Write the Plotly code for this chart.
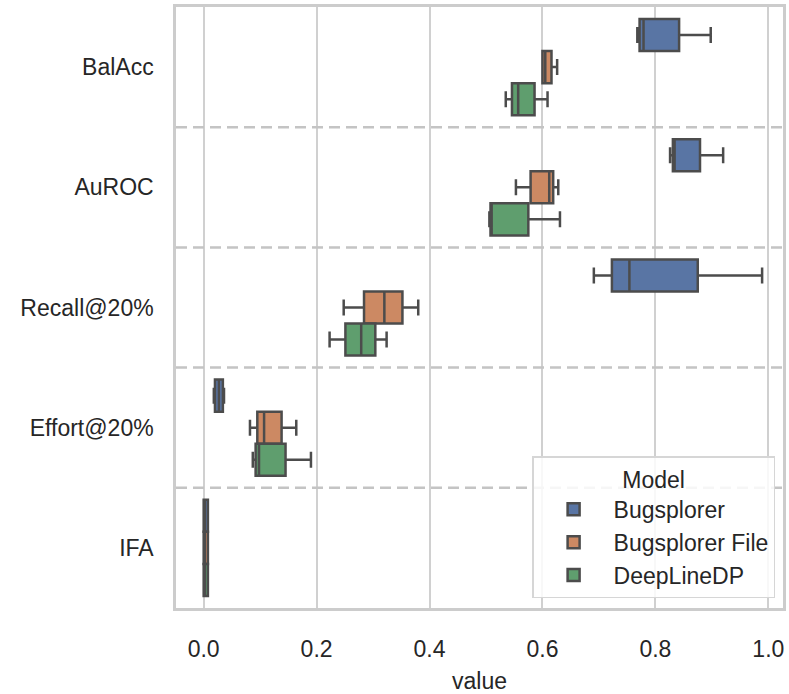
import plotly.graph_objects as go

metrics = ["BalAcc", "AuROC", "Recall@20%", "Effort@20%", "IFA"]
models = ["Bugsplorer", "Bugsplorer File", "DeepLineDP"]
colors = ["#5975a4", "#cc8963", "#5f9e6e"]

# box statistics per model, ordered as metrics
bug_low = [0.768, 0.826, 0.691, 0.018, 0.000]
bug_q1 = [0.772, 0.831, 0.723, 0.020, 0.000]
bug_med = [0.779, 0.834, 0.754, 0.027, 0.002]
bug_q3 = [0.842, 0.879, 0.875, 0.034, 0.0075]
bug_high = [0.898, 0.920, 0.989, 0.036, 0.0075]

file_low = [0.600, 0.553, 0.248, 0.082, 0.000]
file_q1 = [0.600, 0.579, 0.284, 0.095, 0.000]
file_med = [0.605, 0.612, 0.320, 0.107, 0.002]
file_q3 = [0.616, 0.619, 0.352, 0.138, 0.0075]
file_high = [0.626, 0.628, 0.380, 0.164, 0.0075]

dl_low = [0.535, 0.506, 0.223, 0.087, 0.000]
dl_q1 = [0.546, 0.508, 0.251, 0.092, 0.000]
dl_med = [0.557, 0.510, 0.279, 0.098, 0.002]
dl_q3 = [0.586, 0.575, 0.304, 0.145, 0.0075]
dl_high = [0.609, 0.631, 0.324, 0.190, 0.0075]

stats = [
    (bug_low, bug_q1, bug_med, bug_q3, bug_high),
    (file_low, file_q1, file_med, file_q3, file_high),
    (dl_low, dl_q1, dl_med, dl_q3, dl_high),
]

x_ticks = [0.0, 0.2, 0.4, 0.6, 0.8, 1.0]

FONT = "Liberation Sans, Arial, sans-serif"
TXT = "#262626"
GRID = "#d0d0d0"

fig = go.Figure()
for name, col, (lo, q1, md, q3, hi) in zip(models, colors, stats):
    fig.add_trace(go.Box(
        name=name,
        y=metrics,
        lowerfence=lo, q1=q1, median=md, q3=q3, upperfence=hi,
        orientation="h",
        fillcolor=col,
        line=dict(color="#4c4c4c", width=2.5),
        whiskerwidth=0.5,
        boxpoints=False,
        hoverinfo="x+name",
    ))

shapes = []
for i in range(len(metrics) - 1):
    shapes.append(dict(
        type="line", xref="paper", yref="y",
        x0=0, x1=1, y0=i + 0.5, y1=i + 0.5,
        line=dict(color="#c4c4c4", width=2.5, dash="11px,6px"),
        layer="above",
    ))

fig.update_layout(
    width=789, height=694,
    margin=dict(l=176, r=3, t=7, b=77),
    paper_bgcolor="white", plot_bgcolor="white",
    boxmode="group", boxgap=0.2, boxgroupgap=0.0,
    font=dict(family=FONT, size=23, color=TXT),
    shapes=shapes,
    showlegend=True,
    legend=dict(
        title=dict(text="Model", side="top center", font=dict(size=23, color=TXT)),
        x=0.987, y=0.016, xanchor="right", yanchor="bottom",
        bgcolor="rgba(255,255,255,0.85)",
        bordercolor="#d6d6d6", borderwidth=1.5,
        font=dict(size=23, color=TXT),
        itemwidth=70,
    ),
    xaxis=dict(
        range=[-0.049, 1.026],
        tickvals=x_ticks,
        ticktext=[f"{v:.1f}" for v in x_ticks],
        showgrid=True, gridcolor=GRID, gridwidth=1.5,
        zeroline=False,
        showline=True, linecolor="#cccccc", linewidth=2.5, mirror=True,
        ticks="outside", ticklen=0, tickcolor="rgba(0,0,0,0)",
        ticklabelstandoff=19,
        title=dict(text="value", standoff=13, font=dict(size=23, color=TXT)),
    ),
    yaxis=dict(
        categoryorder="array", categoryarray=metrics,
        range=[4.5, -0.5],
        showgrid=False, zeroline=False,
        showline=True, linecolor="#cccccc", linewidth=2.5, mirror=True,
        ticks="outside", ticklen=0, tickcolor="rgba(0,0,0,0)",
        ticklabelstandoff=15,
    ),
)

fig.write_html(
    "out.html",
    config={"displayModeBar": False},
    post_script="document.body.style.margin='0';",
)
